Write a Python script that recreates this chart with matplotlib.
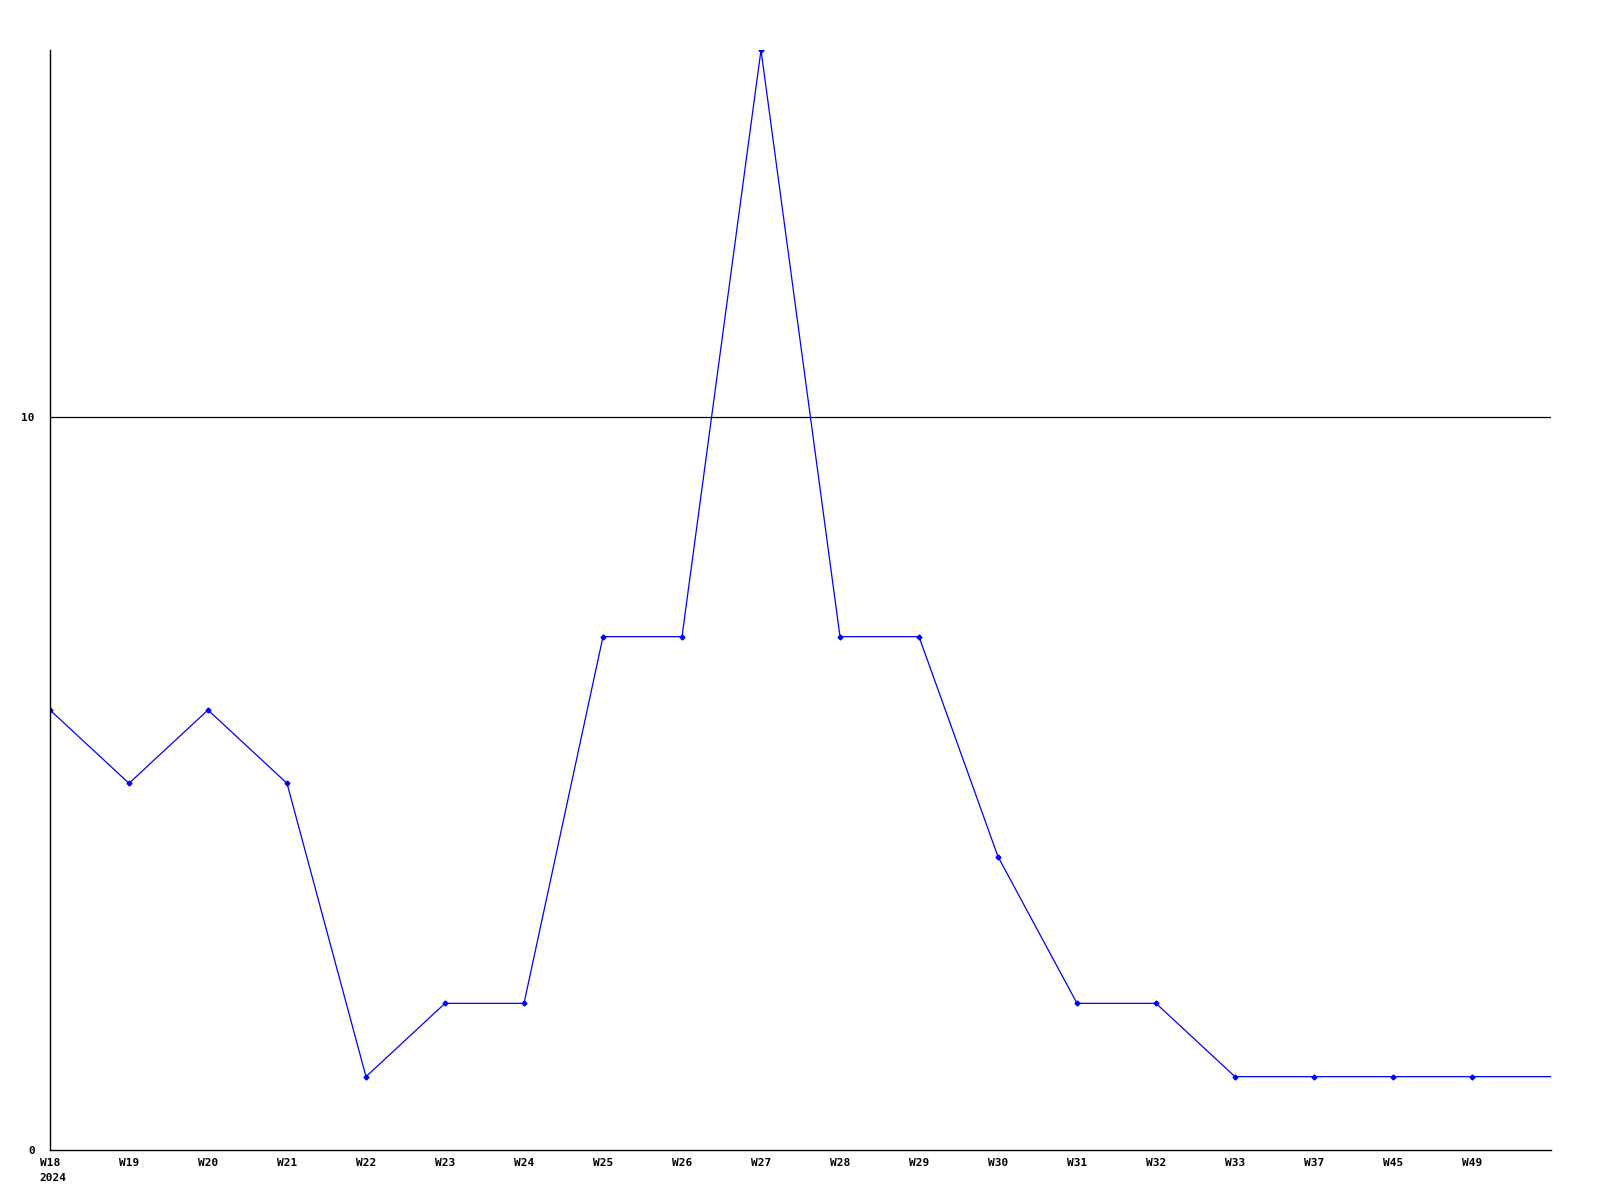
import matplotlib
matplotlib.use("Agg")
import matplotlib.pyplot as plt

weeks = ["W18", "W19", "W20", "W21", "W22", "W23", "W24", "W25", "W26", "W27",
         "W28", "W29", "W30", "W31", "W32", "W33", "W37", "W45", "W49"]
values = [6, 5, 6, 5, 1, 2, 2, 7, 7, 15, 7, 7, 4, 2, 2, 1, 1, 1, 1]
tail_value = 1  # line continues to right edge
year_label = "2024"
y_ticks = [0, 10]

fig = plt.figure(figsize=(16, 12), dpi=100)
ax = fig.add_axes([50 / 1600, 50 / 1200, 1501 / 1600, 1100 / 1200])

x = list(range(len(weeks)))
ax.plot(x + [len(weeks)], values + [tail_value], color="#0000ff", lw=0.9)
ax.plot(x, values, ls="none", marker="D", ms=2.5, color="#0000ff")

ax.axhline(10, color="black", lw=0.9)

ax.set_xlim(0, len(weeks))
ax.set_ylim(0, 15)
ax.spines["top"].set_visible(False)
ax.spines["right"].set_visible(False)
ax.spines["left"].set_linewidth(1)
ax.spines["bottom"].set_linewidth(1)

font = dict(family="DejaVu Sans Mono", fontweight="bold", fontsize=8)
ax.set_yticks(y_ticks)
ax.set_yticklabels([str(v) for v in y_ticks], **font)
ax.set_xticks(x)
ax.set_xticklabels(weeks, **font)
ax.tick_params(axis="both", length=0)
ax.tick_params(axis="y", pad=11)
ax.tick_params(axis="x", pad=6)

# year under the first week label, left-aligned with it
ax.annotate(year_label, xy=(0, 0), xycoords=("data", "axes fraction"),
            xytext=(-8, -16.5), textcoords="offset points",
            ha="left", va="top", annotation_clip=False, **font)

fig.savefig("out.png", dpi=100)
